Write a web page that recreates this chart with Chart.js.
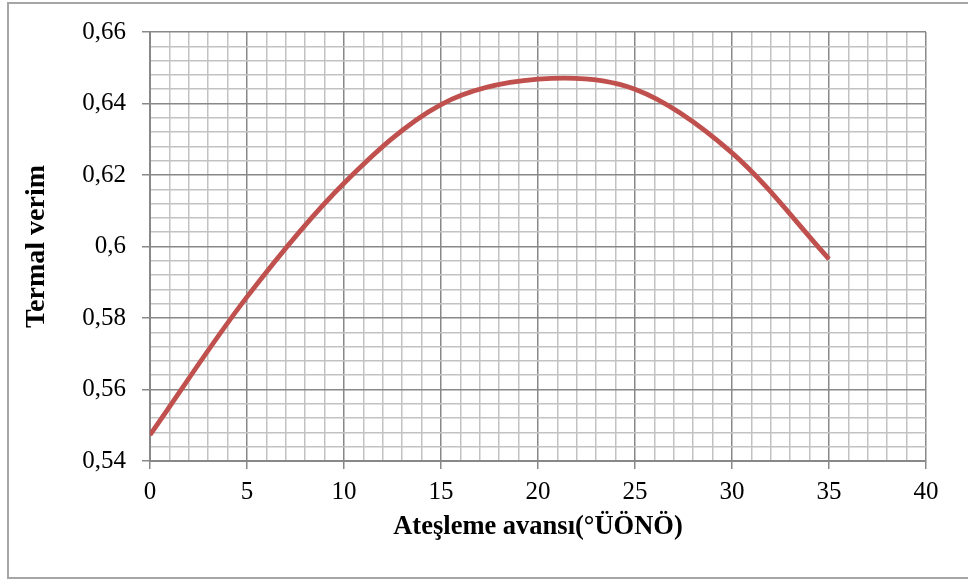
<!DOCTYPE html>
<html>
  <head>
    <meta charset="utf-8">
    <title>Termal verim</title>
    <script src="https://cdn.jsdelivr.net/npm/chart.js"></script>
    <style>
      body {
        margin: 0;
        background: #ffffff;
      }
      #wrap {
        width: 968px;
        height: 581px;
      }
    </style>
  </head>
  <body>
    <div id="wrap"><canvas id="myChart" width="968" height="581"></canvas></div>
    <script>
      // data
      const advance = [0, 5, 10, 15, 20, 25, 30, 35];
      const efficiency = [0.5473, 0.5859, 0.6177, 0.6397, 0.6468, 0.6440, 0.6262, 0.5965];
      const xTicks = [0, 5, 10, 15, 20, 25, 30, 35, 40];
      const yTicks = [0.54, 0.56, 0.58, 0.6, 0.62, 0.64, 0.66];

      const majorColor = '#888888';
      const minorColor = '#c2c2c2';
      const serif = "'Liberation Serif', 'Times New Roman', serif";

      function isMajorX(v) {
        return xTicks.includes(Math.round(v * 1000) / 1000);
      }
      function isMajorY(v) {
        return yTicks.includes(Math.round(v * 1000) / 1000);
      }

      // outer frame of the chart
      const framePlugin = {
        id: 'frame',
        beforeDraw: (chart) => {
          const ctx = chart.ctx;
          ctx.save();
          ctx.fillStyle = '#ffffff';
          ctx.fillRect(0, 0, chart.width, chart.height);
          ctx.strokeStyle = '#a6a6a6';
          ctx.lineWidth = 2;
          ctx.strokeRect(8, 3, 970, 575);
          ctx.restore();
        }
      };

      const ctx = document.getElementById('myChart').getContext('2d');
      new Chart(ctx, {
        type: 'line',
        data: {
          datasets: [{
            label: 'Termal verim',
            data: advance.map((x, i) => ({ x: x, y: efficiency[i] })),
            borderColor: '#c0504d',
            borderWidth: 4.8,
            pointRadius: 0,
            tension: 0.33,
            fill: false
          }]
        },
        options: {
          responsive: false,
          animation: false,
          devicePixelRatio: 1,
          layout: {
            padding: { top: 32, right: 42, left: 0, bottom: 0 }
          },
          plugins: {
            legend: { display: false },
            tooltip: { enabled: false }
          },
          scales: {
            x: {
              type: 'linear',
              min: 0,
              max: 40,
              afterFit: (scale) => { scale.height = 120; },
              ticks: {
                stepSize: 1,
                autoSkip: false,
                maxRotation: 0,
                padding: 8,
                color: '#000000',
                font: { family: serif, size: 25 },
                callback: (v) => isMajorX(v) ? String(v) : ''
              },
              grid: {
                color: (c) => isMajorX(c.tick.value) ? majorColor : minorColor,
                lineWidth: 1.5,
                tickColor: (c) => isMajorX(c.tick.value) ? majorColor : 'rgba(0,0,0,0)',
                tickLength: 8
              },
              border: { color: majorColor, width: 2 },
              title: {
                display: true,
                text: 'Ateşleme avansı(°ÜÖNÖ)',
                color: '#000000',
                font: { family: serif, size: 26.5, weight: 'bold' },
                padding: { top: 0, bottom: 38 }
              }
            },
            y: {
              min: 0.54,
              max: 0.66,
              afterFit: (scale) => { scale.width = 150; },
              ticks: {
                stepSize: 0.004,
                autoSkip: false,
                padding: 16,
                color: '#000000',
                font: { family: serif, size: 25 },
                callback: (v) => isMajorY(v) ? String(+v.toFixed(2)).replace('.', ',') : ''
              },
              grid: {
                color: (c) => isMajorY(c.tick.value) ? majorColor : minorColor,
                lineWidth: 1.5,
                tickColor: (c) => isMajorY(c.tick.value) ? majorColor : 'rgba(0,0,0,0)',
                tickLength: 8
              },
              border: { color: majorColor, width: 2 },
              title: {
                display: true,
                text: 'Termal verim',
                color: '#000000',
                font: { family: serif, size: 28, weight: 'bold' },
                padding: { top: 20, bottom: 0 }
              }
            }
          }
        },
        plugins: [framePlugin]
      });
    </script>
  </body>
</html>
